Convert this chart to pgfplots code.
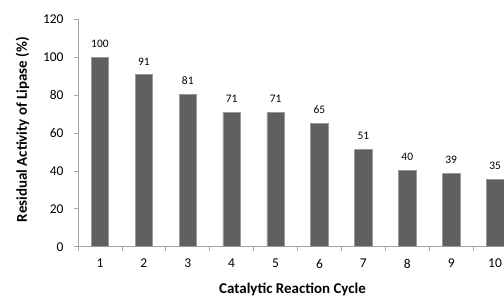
\documentclass[border=0pt]{standalone}
\usepackage{fontspec}
\setmainfont{Carlito}
\usepackage{pgfplots}
\pgfplotsset{compat=1.18}
\definecolor{barfill}{HTML}{5F5F5F}
\definecolor{baredge}{HTML}{9A9A9A}
\definecolor{axisgray}{HTML}{A6A6A6}
\begin{document}
\begin{tikzpicture}[x=1bp,y=1bp]
\path[use as bounding box, clip] (0,0) rectangle (504,304);
\begin{axis}[
  at={(78bp,57.3bp)}, anchor=south west,
  scale only axis,
  width=439bp, height=227.3bp,
  xmin=0.5, xmax=10.5, ymin=0, ymax=120,
  ytick={0,20,...,120},
  xtick={1,...,10},
  minor xtick={0.5,1.5,...,10.5},
  major x tick style={draw=none},
  tick align=outside,
  major tick length=4bp,
  minor tick length=4bp,
  every tick/.style={axisgray, line width=0.8bp},
  axis x line*=bottom, axis y line*=left,
  axis line style={axisgray, line width=0.8bp, -},
  ymajorgrids=false,
  tick label style={font=\fontsize{13.5}{14}\selectfont, black},
  yticklabel style={xshift=-7bp},
  xticklabel style={yshift=-5bp},
  /pgf/number format/assume math mode=true,
  ylabel={Residual Activity of Lipase (\%)},
  xlabel={Catalytic Reaction Cycle},
  every axis y label/.style={at={(axis description cs:-0.1265,0.515)}, rotate=90, anchor=center, font=\fontsize{15}{16}\selectfont\bfseries},
  every axis x label/.style={at={(axis description cs:0.4886,-0.186)}, anchor=center, font=\fontsize{15}{16}\selectfont\bfseries},
  clip=false,
]
\addplot[ybar, bar width=17.5bp, fill=barfill, draw=baredge, line width=0.6bp,
  nodes near coords, nodes near coords style={font=\fontsize{11.5}{12}\selectfont, black, yshift=6bp, /pgf/number format/.cd, fixed, precision=0, assume math mode=true}]
  coordinates {(1,100) (2,90.8) (3,80.6) (4,71) (5,70.8) (6,65) (7,51.4) (8,40.4) (9,38.8) (10,35.4)};
\end{axis}
\end{tikzpicture}
\end{document}
